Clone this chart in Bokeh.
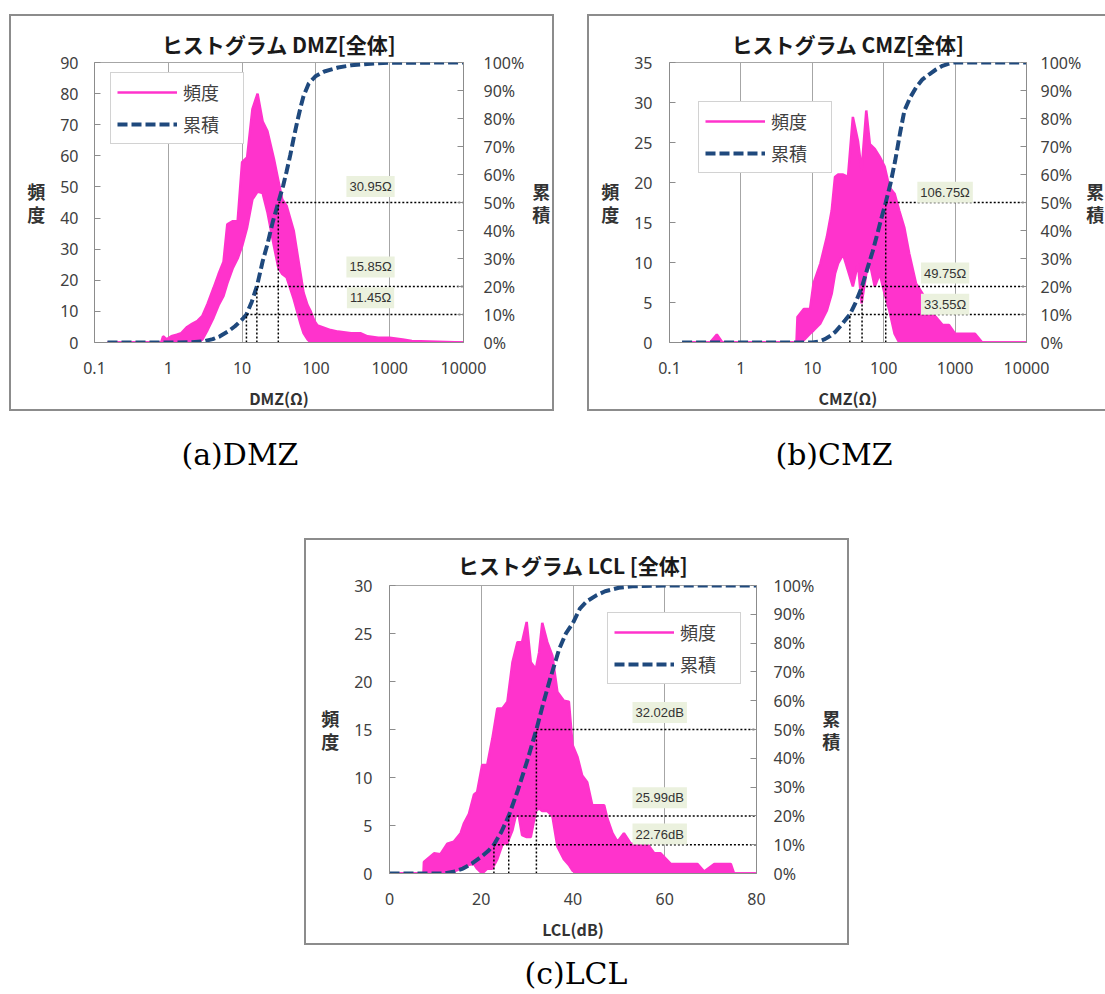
from bokeh.plotting import figure
from bokeh.models import (Range1d, LinearAxis, Legend, LegendItem, Label,
                          CustomJSTickFormatter, FixedTicker, Div, Spacer)
from bokeh.layouts import column, row
from bokeh.embed import file_html
from bokeh.resources import INLINE

# ---------------- data ----------------
pct_ticks = [0, 10, 20, 30, 40, 50, 60, 70, 80, 90, 100]
pct_labels = ["0%", "10%", "20%", "30%", "40%", "50%", "60%", "70%", "80%", "90%", "100%"]
log_ticks = [0.1, 1, 10, 100, 1000, 10000]
log_tick_labels = ["0.1", "1", "10", "100", "1000", "10000"]
lcl_ticks = [0, 20, 40, 60, 80]

# DMZ frequency (upper / lower envelope of the noisy histogram line)
dmz_x = [0.15, 0.8, 0.85, 0.95, 1.1, 1.3, 1.5, 1.8, 2.1, 2.5, 2.9, 3.4, 4.1, 4.8, 5.6, 6.3, 7.5, 8.7, 10, 11.7,
         13.8, 16.2, 19, 22, 27, 31, 35, 40, 50, 62, 68, 77, 85, 95, 105, 158, 200, 300, 400, 500,
         700, 1000, 1500, 2000, 10000]
dmz_hi = [0, 0, 2, 1, 2, 2.5, 3, 5, 6, 7, 8.6, 12.4, 17.5, 22, 26, 38, 39, 39, 58, 59.5,
          75, 80, 71, 68, 59, 52, 46, 44, 36, 22, 16, 12, 10, 7, 5.5, 4, 3.5, 3, 3, 2,
          1.5, 1.5, 1, 0.5, 0]
dmz_lo = [0, 0, 0, 0, 0, 0, 0, 0, 0.5, 0, 1, 4, 8, 12, 15, 19, 24, 27, 31, 37,
          46, 48.5, 48, 42, 31, 24, 22, 21, 14, 6, 3, 1, 0, 0, 0, 0, 0, 0, 0, 0,
          0, 0, 0, 0, 0]
dmz_cum_x = [0.15, 1, 2, 3, 4, 5, 6.5, 8, 10, 11.45, 13.5, 15.85, 19, 22, 26, 30.95, 36, 40, 45, 50,
             56, 62, 68, 80, 100, 130, 200, 300, 500, 1000, 10000]
dmz_cum_y = [0, 0, 0.1, 0.4, 1.2, 2.2, 4, 5.8, 8.2, 10, 14.5, 20, 29, 35, 43, 50, 56, 61, 67, 73,
             79, 84, 88, 92.5, 95.2, 96.8, 98.2, 99, 99.5, 99.9, 100]
dmz_q = [11.45, 15.85, 30.95]
dmz_q_pct = [10, 20, 50]
dmz_q_labels = ["11.45Ω", "15.85Ω", "30.95Ω"]

# CMZ
cmz_x = [0.15, 0.37, 0.46, 0.55, 6.0, 6.2, 7.6, 9.3, 10.4, 13, 16, 18.7, 20.8, 23, 27, 31.6, 37, 43.6, 49, 57,
         64, 75, 88, 103, 120, 142, 165, 194, 228, 283, 350, 435, 535, 665, 820, 1000, 1900, 2400, 10000]
cmz_hi = [0, 0, 1.0, 0, 0, 3.2, 4.2, 4.2, 7.4, 9.9, 13.2, 16.5, 20.7, 21, 21, 20.7, 28.2, 25.2, 21.5, 29,
          24.8, 24.2, 23.2, 22, 19.4, 18.6, 16.5, 14.4, 11.1, 7.4, 6.1, 4, 3.2, 2.2, 2.2, 1.1, 1.1, 0, 0]
cmz_lo = [0, 0, 0, 0, 0, 0, 0.3, 1.1, 1.5, 2.4, 4, 6.1, 8.6, 9.9, 11, 9, 7, 9.9, 4.9, 8.6,
          9.9, 7, 8.6, 6.1, 4, 1.1, 0, 0, 0, 0, 0, 0, 0, 0, 0, 0, 0, 0, 0]
cmz_cum_x = [0.15, 10, 12, 15, 18, 21, 25, 29, 33.55, 40, 49.75, 60, 70, 80, 92, 106.75, 125, 145, 170, 195,
             235, 283, 350, 435, 540, 665, 800, 950, 10000]
cmz_cum_y = [0, 0, 0.3, 1.2, 2.4, 3.8, 6, 8, 10, 14, 20, 27, 32.5, 38, 44, 50, 57, 65, 75, 82.8,
             87.5, 91, 94, 95.8, 97.5, 98.8, 99.5, 100, 100]
cmz_q = [33.55, 49.75, 106.75]
cmz_q_pct = [10, 20, 50]
cmz_q_labels = ["33.55Ω", "49.75Ω", "106.75Ω"]

# LCL
lcl_x = [0, 7.4, 7.5, 9.7, 11.1, 12.6, 14.0, 15.5, 16.2, 17.3, 18.4, 19.1, 20.2, 21.3, 22.4, 23.5, 24.6, 25.7, 26.8, 27.9,
         28.9, 29.9, 30.8, 31.9, 32.6, 33.3, 34.4, 35.5, 36.6, 38.0, 39.1, 39.9, 41.0, 42.0, 43.1, 44.2, 46.8, 47.5, 48.6, 49.7,
         51.1, 52.6, 56.2, 57.7, 59.1, 61.3, 67.1, 68.6, 70.8, 74.4, 75.1, 80]
lcl_hi = [0, 0, 1.2, 2.1, 2.0, 3.1, 3.3, 4.2, 5.2, 6.2, 8.2, 8.5, 11.3, 11.3, 14, 17.2, 17.2, 17.9, 22, 24.1,
          24.1, 26.2, 22, 21.3, 23, 26.1, 24.1, 22.7, 18.9, 18, 17.9, 13.4, 12.1, 10.2, 9.5, 7.1, 7.1, 5.7, 4.2, 3.3,
          4.2, 3.1, 3.1, 2.1, 2.1, 1.0, 1.0, 0.2, 1.0, 1.0, 0, 0]
lcl_lo = [0, 0, 0, 0, 0, 0, 0.2, 0.5, 0.5, 0.9, 1.0, 0.5, 0, 0.5, 0.5, 1.5, 3.0, 3.2, 4.5, 6.8,
          4.0, 3.8, 3.8, 6.5, 6.8, 6.5, 6.5, 6.0, 2.8, 1.5, 0.9, 0.3, 0, 0, 0, 0, 0, 0, 0, 0,
          0, 0, 0, 0, 0, 0, 0, 0, 0, 0, 0, 0]
lcl_cum_x = [0, 12, 14, 16, 18, 20, 21.5, 22.76, 24.4, 25.99, 28, 30, 32.02, 33.5, 35, 37, 38.5, 40, 41.5, 43,
             45, 47, 50, 53, 60, 80]
lcl_cum_y = [0, 0, 0.6, 1.7, 3.5, 5.8, 7.8, 10, 14.5, 20, 29, 39, 50, 59, 67.5, 78, 83.5, 87, 92, 94.5,
             96.5, 98, 99.2, 99.7, 100, 100]
lcl_q = [22.76, 25.99, 32.02]
lcl_q_pct = [10, 20, 50]
lcl_q_labels = ["22.76dB", "25.99dB", "32.02dB"]

# ---------------- style ----------------
PINK = "#ff33cc"
NAVY = "#1f497d"
GRID = "#a6a6a6"
AXC = "#8c8c8c"
TXT = "#404040"
JP = "Noto Sans CJK JP"
NUM = "Noto Sans"
BORDER = "2px solid #8c8c8c"
JSFMT = "const i = tv.indexOf(tick); return i >= 0 ? tl[i] : '';"


def make_panel(title, xlabel, log, xr, xt, xtl, ymax, yt, fx, fhi, flo, cx, cy,
               q, qp, ql, ann_x, ann_y, leg_loc, w, h, mb, styles, lstd, rstd, rlstd, tstd):
    kw = dict(x_axis_type="log") if log else {}
    p = figure(width=w, height=h, x_range=Range1d(*xr), y_range=Range1d(0, ymax),
               output_backend="svg", toolbar_location=None, title=title,
               min_border_left=mb[0], min_border_right=mb[1], min_border_top=mb[2],
               min_border_bottom=mb[3], styles=styles, **kw)
    p.extra_y_ranges = {"cum": Range1d(0, 100)}
    p.background_fill_color = "white"
    p.border_fill_color = "white"
    p.outline_line_color = GRID
    p.outline_line_width = 1
    p.title.align = "center"
    p.title.vertical_align = "top"
    p.title.text_font = JP
    p.title.text_font_size = "21px"
    p.title.text_font_style = "bold"
    p.title.text_color = "#1a1a1a"
    p.title.standoff = tstd

    p.ygrid.visible = False
    p.xgrid.grid_line_color = GRID
    p.xgrid.grid_line_width = 1

    xa = p.xaxis[0]
    xa.ticker = FixedTicker(ticks=xt)
    if xtl is not None:
        xa.formatter = CustomJSTickFormatter(args=dict(tv=xt, tl=xtl), code=JSFMT)
    xa.major_tick_in = 0
    xa.major_tick_out = 0
    xa.minor_tick_line_color = None
    xa.axis_line_color = AXC
    xa.major_label_text_font = NUM
    xa.major_label_text_font_size = "16px"
    xa.major_label_text_color = TXT
    xa.major_label_standoff = 19
    xa.axis_label = xlabel
    xa.axis_label_text_font = JP
    xa.axis_label_text_font_size = "16px"
    xa.axis_label_text_font_style = "bold"
    xa.axis_label_text_color = "#333333"
    xa.axis_label_standoff = 9

    ya = p.yaxis[0]
    ya.ticker = FixedTicker(ticks=yt)
    ya.major_tick_in = 6
    ya.major_tick_out = 0
    ya.major_tick_line_color = AXC
    ya.minor_tick_line_color = None
    ya.axis_line_color = AXC
    ya.major_label_text_font = NUM
    ya.major_label_text_font_size = "16px"
    ya.major_label_text_color = TXT
    ya.major_label_standoff = lstd
    ya.axis_label = "頻\n度"
    ya.axis_label_orientation = "horizontal"
    ya.axis_label_text_font = JP
    ya.axis_label_text_font_size = "18px"
    ya.axis_label_text_font_style = "bold"
    ya.axis_label_text_color = "#333333"
    ya.axis_label_text_line_height = 0.85
    ya.axis_label_standoff = 12

    ra = LinearAxis(y_range_name="cum", ticker=FixedTicker(ticks=pct_ticks),
                    formatter=CustomJSTickFormatter(args=dict(tv=pct_ticks, tl=pct_labels), code=JSFMT))
    ra.major_tick_in = 6
    ra.major_tick_out = 0
    ra.major_tick_line_color = AXC
    ra.minor_tick_line_color = None
    ra.axis_line_color = AXC
    ra.major_label_text_font = NUM
    ra.major_label_text_font_size = "16px"
    ra.major_label_text_color = TXT
    ra.major_label_standoff = rstd
    ra.axis_label = "累\n積"
    ra.axis_label_orientation = "horizontal"
    ra.axis_label_text_font = JP
    ra.axis_label_text_font_size = "18px"
    ra.axis_label_text_font_style = "bold"
    ra.axis_label_text_color = "#333333"
    ra.axis_label_text_line_height = 0.85
    ra.axis_label_standoff = rlstd
    p.add_layout(ra, "right")

    # frequency (pink)
    p.varea(x=fx, y1=flo, y2=fhi, fill_color=PINK, fill_alpha=1)
    r_hi = p.line(fx, fhi, line_color=PINK, line_width=2.5)
    p.line(fx, flo, line_color=PINK, line_width=2.5)
    # cumulative (navy dashed)
    r_cum = p.line(cx, cy, y_range_name="cum", line_color=NAVY, line_width=4,
                   line_dash="10 4")
    # quantile guide lines
    p.segment(x0=q, y0=qp, x1=[xr[1]] * len(q), y1=qp, y_range_name="cum",
              line_color="black", line_width=1.5, line_dash="2 2")
    p.segment(x0=q, y0=[0] * len(q), x1=q, y1=qp, y_range_name="cum",
              line_color="black", line_width=1.5, line_dash="2 2")
    for i in range(len(q)):
        p.add_layout(Label(x=ann_x, y=ann_y[i], y_range_name="cum", text=ql[i],
                           text_align="center", text_baseline="middle",
                           text_font="Liberation Sans", text_font_size="13px",
                           text_color="#333333", background_fill_color="#ebf1de",
                           padding=3))

    leg = Legend(items=[LegendItem(label="頻度", renderers=[r_hi]),
                        LegendItem(label="累積", renderers=[r_cum])],
                 location=leg_loc, border_line_color=GRID, border_line_width=1,
                 background_fill_color="white", background_fill_alpha=1,
                 label_text_font=JP, label_text_font_size="18px", label_text_color=TXT,
                 glyph_width=60, glyph_height=20, label_height=20, label_width=54,
                 label_standoff=6, spacing=6, padding=6, margin=0)
    p.add_layout(leg)
    return p


pA = make_panel("ヒストグラム DMZ[全体]", "DMZ(Ω)", True, (0.1, 10000), log_ticks, log_tick_labels,
                90, list(range(0, 91, 10)), dmz_x, dmz_hi, dmz_lo, dmz_cum_x, dmz_cum_y,
                dmz_q, dmz_q_pct, dmz_q_labels, 550, [16, 27, 55.7], (16, 198),
                545, 397, (83, 93, 44, 71), {"border": BORDER}, 16, 20, 5, 4)
pB = make_panel("ヒストグラム CMZ[全体]", "CMZ(Ω)", True, (0.1, 10000), log_ticks, log_tick_labels,
                35, list(range(0, 36, 5)), cmz_x, cmz_hi, cmz_lo, cmz_cum_x, cmz_cum_y,
                cmz_q, cmz_q_pct, cmz_q_labels, 724, [13.7, 24.8, 53.7], (29, 169),
                518, 397, (80, 77, 46, 71),
                {"border-left": BORDER, "border-top": BORDER, "border-bottom": BORDER}, 17, 14, 2, 4)
pC = make_panel("ヒストグラム LCL [全体]", "LCL(dB)", False, (0, 80), lcl_ticks, None,
                30, list(range(0, 31, 5)), lcl_x, lcl_hi, lcl_lo, lcl_cum_x, lcl_cum_y,
                lcl_q, lcl_q_pct, lcl_q_labels, 58.9, [13.7, 26.3, 55.9], (218, 189),
                545, 407, (83, 95, 45, 74), {"border": BORDER}, 17, 17, 5, 8)


def caption(txt, w, h, top):
    html = ('<div style="width:%dpx; font-family:\'DejaVu Serif\'; font-size:30px; line-height:34px; '
            'text-align:center; color:#000; padding-top:%dpx;">%s</div>' % (w, top, txt))
    return Div(text=html, width=w, height=h, margin=0,
               styles={"text-align": "center"})


capA = caption("(a)DMZ", 480, 127, 27)
capB = caption("(b)CMZ", 200, 127, 27)
capC = caption("(c)LCL", 200, 49, 12)

layout = column(
    Spacer(height=14),
    row(Spacer(width=9), pA, Spacer(width=33), pB),
    row(capA, Spacer(width=254), capB),
    row(Spacer(width=304), pC),
    row(Spacer(width=476), capC),
)

open("out.html", "w").write(file_html(layout, INLINE))
